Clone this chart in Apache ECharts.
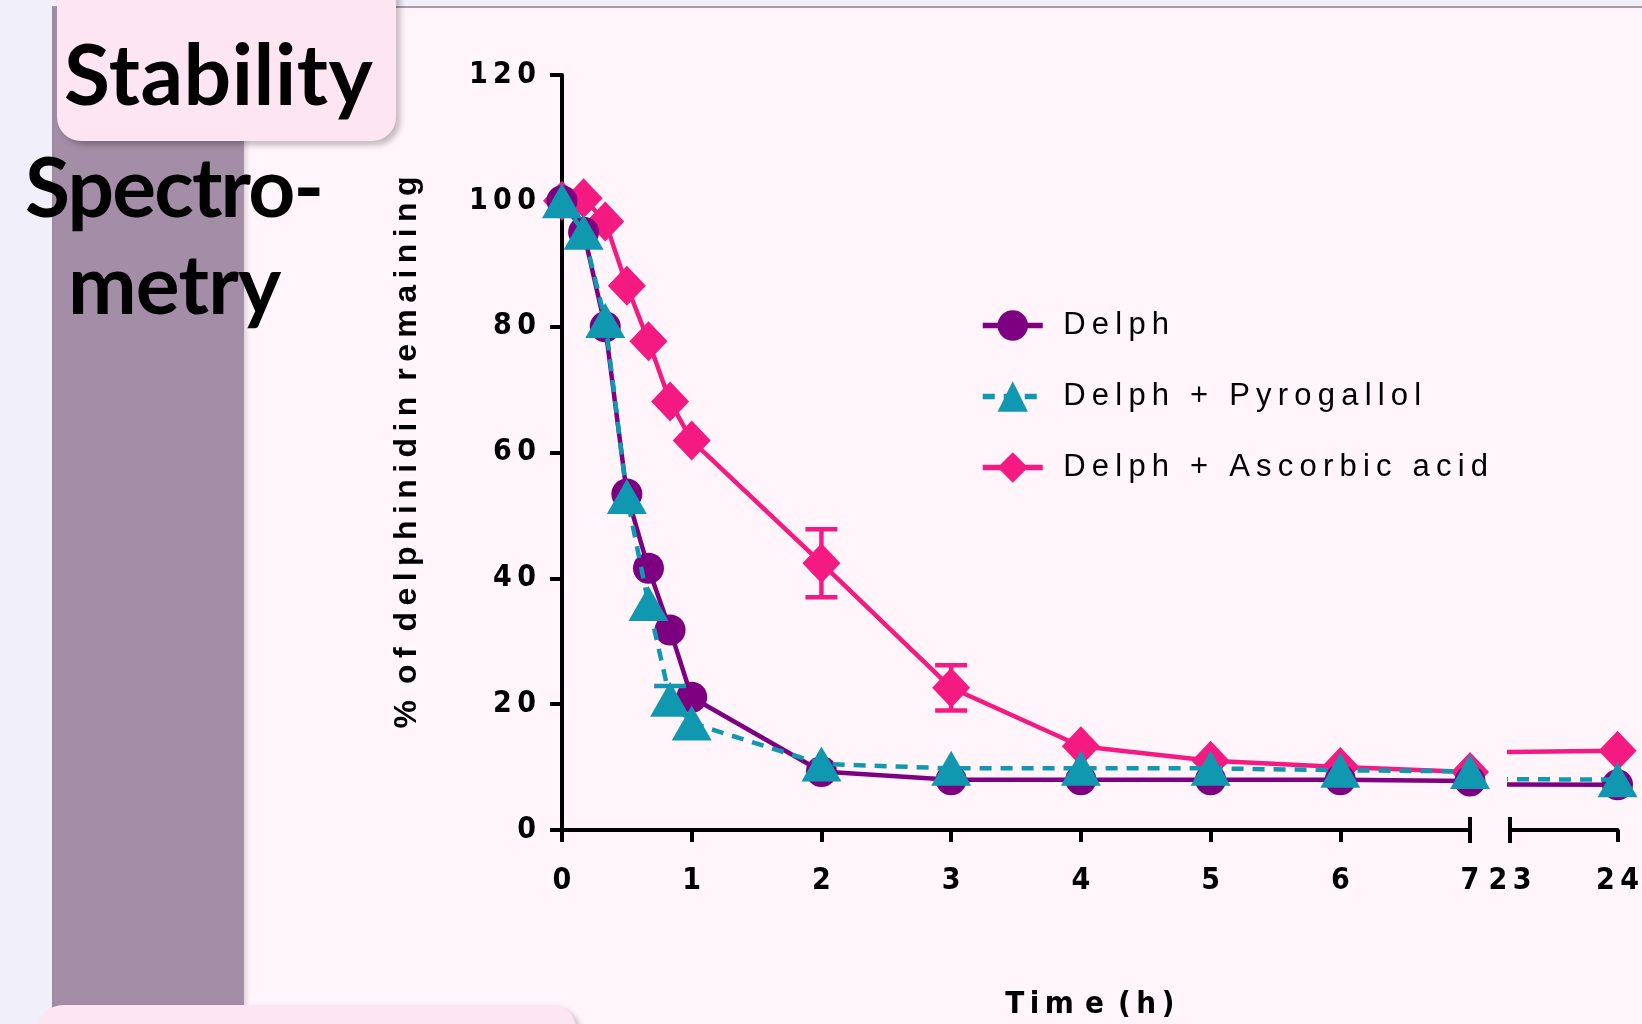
<!DOCTYPE html>
<html><head><meta charset="utf-8">
<script src="https://cdn.jsdelivr.net/npm/echarts@6/dist/echarts.min.js"></script>
<style>
html,body{margin:0;padding:0;background:#f0effa;overflow:hidden;}
#wrap{position:relative;width:1642px;height:1024px;}
.abs{position:absolute;}
#c{position:absolute;left:0;top:0;width:1642px;height:1024px;}
.big{font-family:Lato,'Open Sans',sans-serif;font-weight:700;color:#000;font-size:82px;line-height:1;white-space:nowrap;}
</style>
</head><body>
<div id="wrap">
  <div class="abs" style="left:52px;top:6px;width:1590px;height:1018px;background:#fff5fa;border-top:2px solid #a79aab;border-left:2px solid #9a8c9e;"></div>
  <div class="abs" style="left:54px;top:8px;width:190px;height:1016px;background:#a48ea7;box-shadow:3px 0 4px rgba(0,0,0,0.12);"></div>
  <div class="abs" style="left:57px;top:-30px;width:339px;height:171px;background:#fde6f1;border-radius:24px;box-shadow:4px 4px 6px rgba(0,0,0,0.25);"></div>
  <div class="abs" style="left:39px;top:1005px;width:537px;height:80px;background:#fde6f1;border-radius:24px;box-shadow:4px 4px 6px rgba(0,0,0,0.25);"></div>
  <div class="abs big" style="left:64px;top:31px;font-size:84px;letter-spacing:0.5px;">Stability</div>
  <div class="abs big" style="left:25px;top:144px;letter-spacing:-1.8px;">Spectro-</div>
  <div class="abs big" style="left:68px;top:241px;letter-spacing:-0.8px;">metry</div>
  <div id="c"></div>
</div>
<script>
// time points (hours)
const timesH = [0, 1/6, 2/6, 3/6, 4/6, 5/6, 1, 2, 3, 4, 5, 6, 7, 24];
// % of delphinidin remaining
const delph     = [100, 95, 80, 53.4, 41.6, 31.8, 21.1, 9.3, 8.0, 8.0, 8.0, 8.0, 7.8, 7.2];
const pyro      = [100, 95, 81, 53, 36, 20.8, 17, 10.5, 9.8, 9.8, 9.8, 9.5, 9.3, 8.0];
const ascorbic  = [100, 100.4, 96.7, 86.5, 77.7, 68.1, 61.9, 42.4, 22.6, 13.3, 11.0, 10.0, 9.2, 12.6];
// error (SEM)
const pyroErr     = [0, 0, 0, 0, 0, 2.1, 0, 0, 0, 0, 0, 0, 0, 0];
const ascorbicErr = [0, 0, 0, 0, 0, 0, 0, 5.4, 3.6, 0, 0, 0, 0, 0];
// tick labels
const yTicks = [0, 20, 40, 60, 80, 100, 120];
const xTicksA = [0, 1, 2, 3, 4, 5, 6, 7];
const xTicksB = [23, 24];
const seriesNames = ['Delph', 'Delph + Pyrogallol', 'Delph + Ascorbic acid'];

const PURPLE = '#7d0080', TEAL = '#1198b1', PINK = '#f51a82';
const sp = s => String(s).split('').join('\u2009');
const NUMFONT = "'Liberation Sans Narrow','DejaVu Sans Condensed','Liberation Sans',Arial,sans-serif";
const pts = arr => timesH.map((t, i) => [t, arr[i]]);

const chart = echarts.init(document.getElementById('c'), null, {renderer: 'canvas'});

function axisX(grid, min, max) {
  return {
    type: 'value', gridIndex: grid, min: min, max: max, interval: 1,
    axisLine: {show: true, onZero: false, lineStyle: {color: '#000', width: 4}},
    axisTick: {show: true, length: 12, lineStyle: {color: '#000', width: 4}},
    splitLine: {show: false},
    axisLabel: {margin: 36, color: '#000', fontSize: 30, fontWeight: 'bold', fontFamily: NUMFONT,
      formatter: v => sp(Math.round(v))}
  };
}
function axisY(grid, show) {
  return {
    type: 'value', gridIndex: grid, min: 0, max: 120, interval: 20, show: show,
    axisLine: {show: true, lineStyle: {color: '#000', width: 4}},
    axisTick: {show: true, length: 12, lineStyle: {color: '#000', width: 4}},
    splitLine: {show: false},
    axisLabel: {margin: 26, color: '#000', fontSize: 30, fontWeight: 'bold', fontFamily: NUMFONT,
      formatter: v => sp(v)},
    name: show ? sp('% of delphinidin remaining').replace(/\u2009 \u2009/g, '\u2002') : '',
    nameLocation: 'middle', nameRotate: 90, nameGap: 139,
    nameTextStyle: {color: '#000', fontSize: 32, fontWeight: 'bold', fontFamily: "'Liberation Sans',Arial,sans-serif"}
  };
}

const styles = [
  {name: seriesNames[0], data: delph, color: PURPLE, symbol: 'circle', size: 31, type: 'solid', z: 3},
  {name: seriesNames[1], data: pyro, color: TEAL, symbol: 'triangle', size: [40, 35], type: [12, 9], z: 4},
  {name: seriesNames[2], data: ascorbic, color: PINK, symbol: 'diamond', size: [38, 40], type: 'solid', z: 2}
];

const series = [];
[0, 1].forEach(g => {
  styles.forEach(s => {
    series.push({
      name: s.name, type: 'line', xAxisIndex: g, yAxisIndex: g,
      data: pts(s.data), clip: true, z: s.z,
      symbol: s.symbol, symbolSize: s.size, showSymbol: true,
      itemStyle: {color: s.color},
      lineStyle: {color: s.color, width: 4.5, type: s.type},
      emphasis: {disabled: true}, animation: false
    });
  });
});

function errSeries(name, vals, errs, color, g, z) {
  const d = [];
  timesH.forEach((t, i) => { if (errs[i] > 0) d.push([t, vals[i] - errs[i], vals[i] + errs[i]]); });
  return {
    name: name, type: 'custom', xAxisIndex: g, yAxisIndex: g, z: z, data: d, animation: false,
    clip: true, silent: true,
    renderItem: (params, api) => {
      const lo = api.coord([api.value(0), api.value(1)]);
      const hi = api.coord([api.value(0), api.value(2)]);
      const w = 16;
      const st = {stroke: color, lineWidth: 4.5};
      return {type: 'group', children: [
        {type: 'line', shape: {x1: lo[0], y1: lo[1], x2: hi[0], y2: hi[1]}, style: st},
        {type: 'line', shape: {x1: lo[0] - w, y1: lo[1], x2: lo[0] + w, y2: lo[1]}, style: st},
        {type: 'line', shape: {x1: hi[0] - w, y1: hi[1], x2: hi[0] + w, y2: hi[1]}, style: st}
      ]};
    }
  };
}
series.push(errSeries(seriesNames[1], pyro, pyroErr, TEAL, 0, 4));
series.push(errSeries(seriesNames[2], ascorbic, ascorbicErr, PINK, 0, 2));

chart.setOption({
  backgroundColor: 'transparent',
  animation: false,
  grid: [
    {left: 562, top: 75, width: 908, height: 755, containLabel: false},
    {left: 1510, top: 75, width: 112, height: 755, containLabel: false}
  ],
  xAxis: [axisX(0, 0, 7), axisX(1, 23, 24)],
  yAxis: [axisY(0, true), axisY(1, false)],
  legend: {
    orient: 'vertical', left: 975, top: 305, itemGap: 40,
    itemWidth: 60, itemHeight: 38,
    data: seriesNames,
    lineStyle: {width: 5.5},
    formatter: n => '\u2002' + sp(n),
    textStyle: {color: '#000', fontSize: 31, fontFamily: "'Liberation Sans',Arial,sans-serif"},
    selectedMode: false
  },
  series: series
});

// axis break marks and x title, positioned through the library's scales
const a7 = chart.convertToPixel({xAxisIndex: 0, yAxisIndex: 0}, [7, 0]);
const b23 = chart.convertToPixel({xAxisIndex: 1, yAxisIndex: 1}, [23, 0]);
const a0 = chart.convertToPixel({xAxisIndex: 0, yAxisIndex: 0}, [0, 0]);
const b24 = chart.convertToPixel({xAxisIndex: 1, yAxisIndex: 1}, [24, 0]);
const brk = x => ({type: 'line', shape: {x1: x, y1: a7[1] - 13, x2: x, y2: a7[1] + 13}, style: {stroke: '#000', lineWidth: 4}});
chart.setOption({
  graphic: [
    brk(a7[0]), brk(b23[0]),
    {type: 'text', x: (a0[0] + b24[0]) / 2, y: a7[1] + 175,
      style: {text: 'T\u2009i\u2009m\u2009\u2009e\u2002(\u2009h\u2009)', align: 'center', verticalAlign: 'middle',
        fill: '#000', fontSize: 31, fontWeight: 'bold', fontFamily: NUMFONT}}
  ]
});
</script>
</body></html>
